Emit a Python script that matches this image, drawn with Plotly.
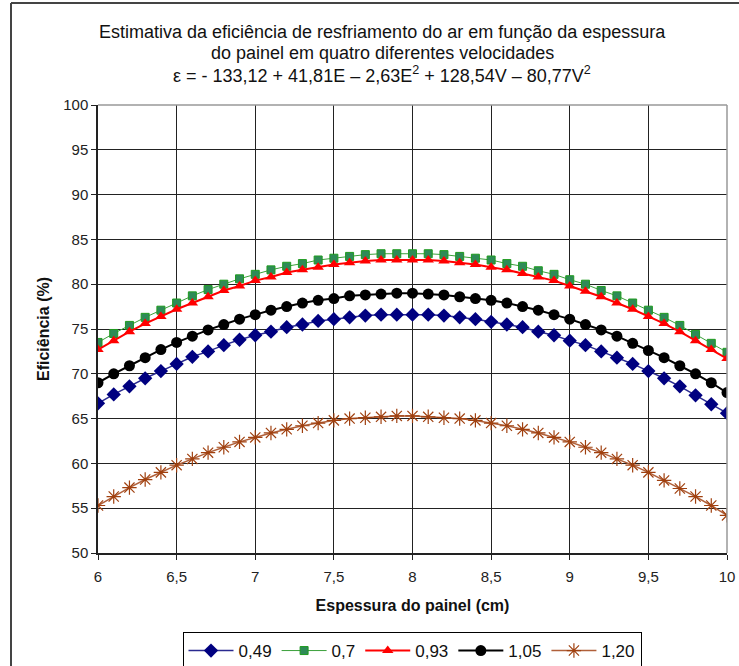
import plotly.graph_objects as go

espessura = [6.0, 6.1, 6.2, 6.3, 6.4, 6.5, 6.6, 6.7, 6.8, 6.9, 7.0, 7.1, 7.2, 7.3, 7.4,
             7.5, 7.6, 7.7, 7.8, 7.9, 8.0, 8.1, 8.2, 8.3, 8.4, 8.5, 8.6, 8.7, 8.8, 8.9,
             9.0, 9.1, 9.2, 9.3, 9.4, 9.5, 9.6, 9.7, 9.8, 9.9, 10.0]

v049 = [66.7, 67.7, 68.6, 69.5, 70.3, 71.1, 71.9, 72.5, 73.2, 73.8, 74.3, 74.7, 75.2, 75.5,
        75.9, 76.1, 76.3, 76.5, 76.6, 76.6, 76.6, 76.6, 76.5, 76.3, 76.1, 75.8, 75.5, 75.2,
        74.7, 74.3, 73.7, 73.2, 72.5, 71.8, 71.1, 70.3, 69.5, 68.6, 67.6, 66.6, 65.6]
v070 = [73.5, 74.5, 75.4, 76.3, 77.1, 77.9, 78.7, 79.4, 80.0, 80.6, 81.1, 81.6, 82.0, 82.3,
        82.7, 82.9, 83.1, 83.3, 83.4, 83.4, 83.4, 83.4, 83.3, 83.1, 82.9, 82.7, 82.3, 82.0,
        81.5, 81.1, 80.5, 80.0, 79.3, 78.7, 77.9, 77.1, 76.3, 75.4, 74.4, 73.4, 72.4]
v093 = [72.7, 73.7, 74.7, 75.6, 76.4, 77.2, 77.9, 78.6, 79.3, 79.8, 80.4, 80.8, 81.3, 81.6,
        81.9, 82.2, 82.4, 82.6, 82.7, 82.7, 82.7, 82.7, 82.6, 82.4, 82.2, 81.9, 81.6, 81.2,
        80.8, 80.4, 79.8, 79.2, 78.6, 77.9, 77.2, 76.4, 75.6, 74.7, 73.7, 72.7, 71.7]
v105 = [69.0, 70.0, 70.9, 71.8, 72.7, 73.5, 74.2, 74.9, 75.5, 76.1, 76.6, 77.1, 77.5, 77.9,
        78.2, 78.4, 78.7, 78.8, 78.9, 79.0, 79.0, 78.9, 78.8, 78.6, 78.4, 78.2, 77.9, 77.5,
        77.1, 76.6, 76.1, 75.5, 74.9, 74.2, 73.4, 72.6, 71.8, 70.9, 70.0, 69.0, 67.9]
v120 = [55.3, 56.3, 57.3, 58.2, 59.0, 59.8, 60.5, 61.2, 61.8, 62.4, 62.9, 63.4, 63.8, 64.2,
        64.5, 64.8, 65.0, 65.1, 65.2, 65.3, 65.3, 65.2, 65.1, 65.0, 64.8, 64.5, 64.2, 63.8,
        63.4, 62.9, 62.4, 61.8, 61.2, 60.5, 59.8, 59.0, 58.1, 57.2, 56.3, 55.3, 54.2]

series_names = ["0,49", "0,7", "0,93", "1,05", "1,20"]
x_ticks = [6, 6.5, 7, 7.5, 8, 8.5, 9, 9.5, 10]
x_tick_labels = ["6", "6,5", "7", "7,5", "8", "8,5", "9", "9,5", "10"]

FONT = "Liberation Sans, Arial, sans-serif"

styles = [
    dict(line=dict(color="#2a2a90", width=1.5),
         marker=dict(symbol="diamond", size=11, color="#000080", line=dict(color="#000080", width=0))),
    dict(line=dict(color="#3aa03a", width=1),
         marker=dict(symbol="square", size=8, color="#2e8b57", line=dict(color="#1f9b1f", width=1))),
    dict(line=dict(color="#ff0000", width=2),
         marker=dict(symbol="triangle-up", size=10, color="#ff0000", line=dict(width=0))),
    dict(line=dict(color="#000000", width=2),
         marker=dict(symbol="circle", size=11, color="#000000", line=dict(width=0))),
    dict(line=dict(color="#b0603a", width=1.5),
         marker=dict(symbol="asterisk-open", size=12, color="#a0400f", line=dict(color="#a0400f", width=1.2))),
]

fig = go.Figure()
for name, ys, st in zip(series_names, [v049, v070, v093, v105, v120], styles):
    fig.add_trace(go.Scatter(x=espessura, y=ys, name=name, mode="lines+markers",
                             line=st["line"], marker=st["marker"]))

# plot area: x px 98..727, y px 105..553
def px_x(p):
    return (p - 98) / 629.0

def px_y(p):
    return (553 - p) / 448.0

title_lines = [
    ("Estimativa da eficiência de resfriamento do ar em função da espessura", 32),
    ("do painel em quatro diferentes velocidades", 53),
    ("ε = - 133,12 + 41,81E – 2,63E<sup>2</sup> + 128,54V – 80,77V<sup>2</sup>", 75),
]
annotations = []
for txt, py in title_lines:
    annotations.append(dict(text=txt, x=px_x(382), y=px_y(py), xref="paper", yref="paper",
                            xanchor="center", yanchor="middle", showarrow=False,
                            font=dict(family=FONT, size=18, color="#111")))

shapes = [
    # outer frame (top and left)
    dict(type="line", xref="paper", yref="paper", x0=px_x(11), x1=px_x(760), y0=px_y(3), y1=px_y(3),
         line=dict(color="#444", width=2)),
    dict(type="line", xref="paper", yref="paper", x0=px_x(11), x1=px_x(11), y0=px_y(3), y1=px_y(700),
         line=dict(color="#444", width=2)),
    # grey top / right borders of plot area
    dict(type="line", xref="paper", yref="paper", x0=0, x1=1, y0=1, y1=1,
         line=dict(color="#999", width=1.5), layer="above"),
    dict(type="line", xref="paper", yref="paper", x0=1, x1=1, y0=0, y1=1,
         line=dict(color="#999", width=1.5), layer="above"),
]

fig.update_layout(
    width=739, height=666,
    margin=dict(l=98, r=12, t=105, b=113, autoexpand=False),
    paper_bgcolor="white", plot_bgcolor="white",
    separators=",.",
    font=dict(family=FONT, size=15, color="#222"),
    annotations=annotations,
    shapes=shapes,
    showlegend=True,
    legend=dict(orientation="h", x=px_x(412), xanchor="center", y=px_y(632), yanchor="top",
                bordercolor="#000", borderwidth=1, bgcolor="white",
                font=dict(family=FONT, size=17, color="#111"),
                itemwidth=45, tracegroupgap=0),
)
fig.update_xaxes(range=[6, 10], tickvals=x_ticks, ticktext=x_tick_labels,
                 showgrid=True, gridcolor="#222", gridwidth=1.2,
                 showline=True, linecolor="#222", linewidth=1.5,
                 ticks="outside", ticklen=5, tickcolor="#222",
                 ticklabelstandoff=4,
                 zeroline=False, tickfont=dict(size=15),
                 title=dict(text="<b>Espessura do painel (cm)</b>", font=dict(size=16, color="#111"), standoff=16))
fig.update_yaxes(range=[50, 100], dtick=5, tick0=50,
                 showgrid=True, gridcolor="#222", gridwidth=1.2,
                 showline=True, linecolor="#222", linewidth=1.5,
                 ticks="outside", ticklen=5, tickcolor="#222",
                 zeroline=False, tickfont=dict(size=15),
                 title=dict(text="<b>Eficiência (%)</b>", font=dict(size=16, color="#111"), standoff=10))

fig.write_html("out.html")
